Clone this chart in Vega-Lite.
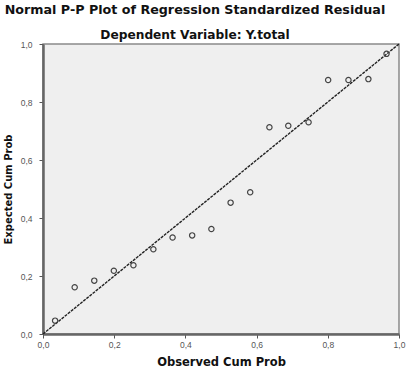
{
  "$schema": "https://vega.github.io/schema/vega-lite/v6.json",
  "width": 356,
  "height": 290,
  "autosize": "none",
  "padding": {"left": 43, "top": 44, "right": 7, "bottom": 43},
  "background": "white",
  "config": {
    "font": "Liberation Sans",
    "view": {"fill": "#efefef", "stroke": "#8a8a8a", "strokeWidth": 1.5}
  },
  "title": {
    "text": "Normal P-P Plot of Regression Standardized Residual",
    "subtitle": "Dependent Variable: Y.total",
    "anchor": "middle",
    "dx": -26,
    "offset": -1,
    "font": "DejaVu Sans",
    "fontSize": 12.7,
    "fontWeight": "bold",
    "color": "#111",
    "subtitleFont": "DejaVu Sans",
    "subtitleFontSize": 12.2,
    "subtitleFontWeight": "bold",
    "subtitleColor": "#111",
    "subtitlePadding": 12
  },
  "datasets": {
    "points": [
      {"observed": 0.034, "expected": 0.046},
      {"observed": 0.089, "expected": 0.161},
      {"observed": 0.144, "expected": 0.184},
      {"observed": 0.199, "expected": 0.218},
      {"observed": 0.254, "expected": 0.237},
      {"observed": 0.310, "expected": 0.292},
      {"observed": 0.364, "expected": 0.333},
      {"observed": 0.419, "expected": 0.340},
      {"observed": 0.473, "expected": 0.362},
      {"observed": 0.527, "expected": 0.453},
      {"observed": 0.582, "expected": 0.489},
      {"observed": 0.636, "expected": 0.713},
      {"observed": 0.689, "expected": 0.718},
      {"observed": 0.746, "expected": 0.730},
      {"observed": 0.801, "expected": 0.876},
      {"observed": 0.858, "expected": 0.876},
      {"observed": 0.914, "expected": 0.879},
      {"observed": 0.965, "expected": 0.966}
    ],
    "diag": [
      {"observed": 0, "expected": 0},
      {"observed": 1, "expected": 1}
    ]
  },
  "layer": [
    {
      "data": {"name": "diag"},
      "mark": {"type": "line", "color": "#222", "strokeWidth": 1.4, "strokeDash": [3, 1]},
      "encoding": {
        "x": {"field": "observed", "type": "quantitative"},
        "y": {"field": "expected", "type": "quantitative"}
      }
    },
    {
      "data": {"name": "points"},
      "mark": {"type": "point", "shape": "circle", "filled": false, "color": "#444", "strokeWidth": 1.2, "size": 28, "opacity": 1},
      "encoding": {
        "x": {
          "field": "observed",
          "type": "quantitative",
          "scale": {"domain": [0, 1], "nice": false, "zero": false},
          "axis": {
            "title": "Observed Cum Prob",
            "titleFont": "DejaVu Sans",
            "titleFontSize": 11.5,
            "titleFontWeight": "bold",
            "titleColor": "#111",
            "titlePadding": 8,
            "values": [0, 0.2, 0.4, 0.6, 0.8, 1],
            "format": ".1f",
            "labelExpr": "replace(datum.label, '.', ',')",
            "labelFontSize": 8.5,
            "labelColor": "#555",
            "labelPadding": 2,
            "labelFlush": false,
            "tickSize": 4,
            "tickColor": "#555",
            "domainColor": "#666",
            "domainWidth": 2.5,
            "grid": false
          }
        },
        "y": {
          "field": "expected",
          "type": "quantitative",
          "scale": {"domain": [0, 1], "nice": false, "zero": false},
          "axis": {
            "title": "Expected Cum Prob",
            "titleFont": "DejaVu Sans",
            "titleFontSize": 10,
            "titleFontWeight": "bold",
            "titleColor": "#111",
            "titlePadding": 7,
            "values": [0, 0.2, 0.4, 0.6, 0.8, 1],
            "format": ".1f",
            "labelExpr": "replace(datum.label, '.', ',')",
            "labelFontSize": 8.5,
            "labelColor": "#555",
            "labelPadding": 7,
            "labelFlush": false,
            "tickSize": 4,
            "tickColor": "#555",
            "domainColor": "#666",
            "domainWidth": 2.5,
            "grid": false
          }
        }
      }
    }
  ]
}
